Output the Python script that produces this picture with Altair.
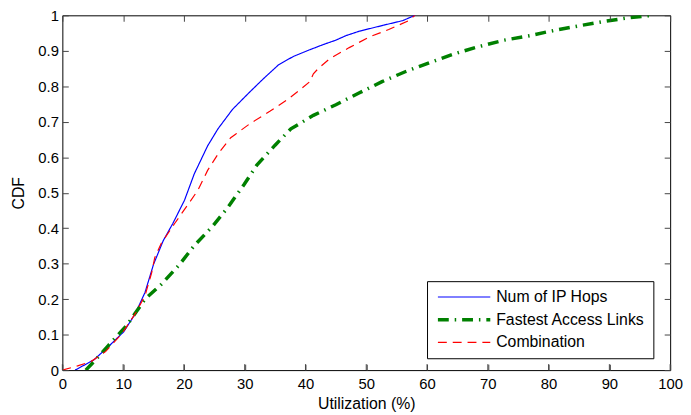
import altair as alt
import pandas as pd

series_names = ["Num of IP Hops", "Fastest Access Links", "Combination"]
series_colors = ["#0000ff", "#008000", "#ff0000"]

hops_x = [2.1, 5.2, 7.5, 10.1, 12.0, 13.6, 15.0, 16.6, 18.2, 20.1, 21.7, 23.9, 25.6, 28.0, 30.9, 33.0,
          35.6, 38.0, 40.7, 43.0, 45.0, 46.7, 48.8, 52.8, 56.0, 58.0]
hops_y = [0.0, 0.029, 0.065, 0.108, 0.159, 0.219, 0.298, 0.365, 0.414, 0.479, 0.553, 0.632, 0.68, 0.735,
          0.785, 0.82, 0.861, 0.884, 0.903, 0.918, 0.93, 0.943, 0.955, 0.972, 0.985, 1.0]

fast_x = [3.85, 5.2, 7.6, 10.6, 13.6, 16.3, 19.3, 21.7, 24.7, 27.2, 29.9, 32.0, 35.0, 37.6, 41.3, 45.0,
          48.8, 52.6, 56.4, 60.8, 64.6, 68.3, 72.7, 77.0, 80.8, 85.2, 88.9, 92.7, 97.1]
fast_y = [0.0, 0.024, 0.07, 0.126, 0.2, 0.242, 0.298, 0.351, 0.405, 0.458, 0.523, 0.578, 0.634, 0.68,
          0.718, 0.748, 0.781, 0.813, 0.841, 0.869, 0.892, 0.911, 0.93, 0.943, 0.957, 0.971, 0.982,
          0.992, 1.0]

comb_x = [0.0, 2.5, 4.7, 7.1, 9.8, 12.0, 13.6, 14.7, 15.2, 16.3, 18.5, 20.6, 22.3, 23.9, 25.8, 27.7,
          28.5, 30.9, 34.2, 37.0, 39.1, 40.7, 41.3, 42.1, 44.0, 47.2, 50.5, 53.7, 57.0, 58.0]
comb_y = [0.0, 0.012, 0.024, 0.052, 0.103, 0.159, 0.21, 0.275, 0.317, 0.358, 0.414, 0.465, 0.507, 0.563,
          0.614, 0.655, 0.665, 0.695, 0.73, 0.762, 0.79, 0.813, 0.835, 0.85, 0.878, 0.909, 0.939, 0.96,
          0.985, 1.0]

x_ticks = [0, 10, 20, 30, 40, 50, 60, 70, 80, 90, 100]
y_ticks = [0.0, 0.1, 0.2, 0.3, 0.4, 0.5, 0.6, 0.7, 0.8, 0.9, 1.0]

rows = []
for name, xs, ys in [(series_names[0], hops_x, hops_y),
                     (series_names[1], fast_x, fast_y),
                     (series_names[2], comb_x, comb_y)]:
    for i, (x, y) in enumerate(zip(xs, ys)):
        rows.append({"series": name, "util": x, "cdf": y, "order": i})
df = pd.DataFrame(rows)

W, H = 615, 359
FONT = "Liberation Sans"
XT = "Utilization (%)"
YT = "CDF"
TICK_COLOR = "#444444"
TL = 6

xscale = alt.Scale(domain=[0, 100], nice=False, zero=False)
yscale = alt.Scale(domain=[0, 1], nice=False, zero=False)

common = dict(grid=False, domain=False, ticks=True, tickSize=TL, tickColor=TICK_COLOR, tickWidth=1,
              tickOpacity=1, offset=-TL, labelOverlap=False, labelFlush=False, zindex=5)

xaxis = alt.Axis(values=x_ticks, title=XT, orient="bottom",
                 labelFont=FONT, labelFontSize=15, labelColor="black", labelPadding=7,
                 titleFont=FONT, titleFontSize=16, titleFontWeight="normal", titleColor="black",
                 titleBaseline="alphabetic", titleY=39 + TL, **common)
yaxis = alt.Axis(values=y_ticks, tickCount=11, title=YT, orient="left",
                 labelFont=FONT, labelFontSize=15, labelColor="black", labelPadding=4,
                 labelExpr="format(datum.value, '~g')",
                 titleFont=FONT, titleFontSize=16, titleFontWeight="normal", titleColor="black",
                 titleX=-44 - TL, titleY=H / 2, titleAngle=270, titleBaseline="middle", **common)
xaxis_top = alt.Axis(values=x_ticks, title=None, orient="top", labels=False, **common)
yaxis_right = alt.Axis(values=y_ticks, title=None, orient="right", labels=False, **common)

leg = alt.Legend(title=None, orient="none", legendX=369, legendY=269,
                 symbolType="M-5,0H48", symbolSize=4,
                 labelFont=FONT, labelFontSize=16, labelColor="black",
                 strokeColor="black", fillColor="white", padding=8, labelOffset=46, rowPadding=7)

lines = alt.Chart(df).mark_line(clip=True).encode(
    x=alt.X("util:Q", scale=xscale, axis=xaxis),
    y=alt.Y("cdf:Q", scale=yscale, axis=yaxis),
    color=alt.Color("series:N", scale=alt.Scale(domain=series_names, range=series_colors), legend=leg),
    strokeDash=alt.StrokeDash("series:N", scale=alt.Scale(type="ordinal", domain=series_names,
                              range=[[1, 0], [11, 6, 1.5, 6], [9, 6]]), legend=leg),
    strokeWidth=alt.StrokeWidth("series:N", scale=alt.Scale(type="ordinal", domain=series_names,
                                range=[1.2, 3.5, 1.2]), legend=leg),
    order="order:Q",
)

frame = alt.Chart(df).mark_point(opacity=0).encode(
    x=alt.X("util:Q", scale=xscale, axis=xaxis_top),
    y=alt.Y("cdf:Q", scale=yscale, axis=yaxis_right),
)

# inward ticks along the bottom edge, from the x tick list
bt = pd.DataFrame({"util": x_ticks, "c0": [0.0] * len(x_ticks), "c1": [TL / H] * len(x_ticks)})
bottom_ticks = alt.Chart(bt).mark_rule(color=TICK_COLOR, strokeWidth=1).encode(
    x=alt.X("util:Q", scale=xscale, axis=None),
    y=alt.Y("c0:Q", scale=yscale, axis=None),
    y2="c1:Q",
)

chart = alt.layer(lines, frame, bottom_ticks).properties(
    width=W, height=H,
    autosize=alt.AutoSizeParams(type="none"),
    padding={"left": 55, "top": 5, "right": 13, "bottom": 42},
    background="white",
).configure_view(stroke="black", strokeWidth=1).configure_axis(labelOverlap=False)

chart.save("out.html", embed_options={"renderer": "svg", "actions": False})
